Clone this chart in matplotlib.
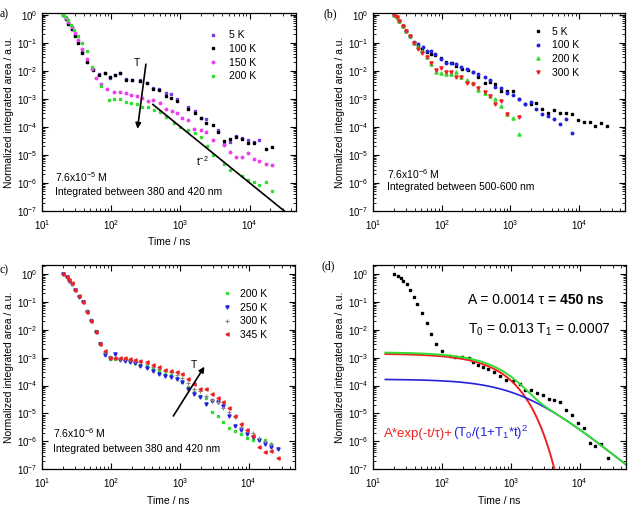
import numpy as np
import matplotlib
matplotlib.use("Agg")
import matplotlib.pyplot as plt
from matplotlib.ticker import LogLocator, NullFormatter

plt.rcParams["font.family"] = ["Liberation Sans", "DejaVu Sans"]
plt.rcParams["mathtext.fontset"] = "custom"
plt.rcParams["mathtext.rm"] = "Liberation Sans"
plt.rcParams["mathtext.it"] = "Liberation Sans:italic"
plt.rcParams["mathtext.bf"] = "Liberation Sans:bold"

# ---------------- panel (a): 380-420 nm, 7.6x10^-5 M ----------------
a_t_5K = [20, 22, 24, 27, 30, 33, 38, 45, 55, 66, 80, 97, 115, 135, 161, 200, 265, 330, 400, 490,
          620, 724, 906, 1310, 1620, 1970, 2330, 3520, 4220, 5250, 6300, 7700, 9420, 11500, 13800]
a_y_5K = [1.0, 0.75, 0.5, 0.32, 0.19, 0.11, 0.045, 0.021, 0.0115, 0.0078, 0.0085, 0.0056, 0.0072, 0.0085,
          0.0050, 0.0047, 0.0046, 0.0037, 0.0025, 0.0023, 0.0016, 1.45e-3, 1.0e-3, 5.0e-4, 3.7e-4, 2.0e-4,
          1.9e-4, 7.8e-5, 2.4e-5, 2.8e-5, 4.9e-5, 4.0e-5, 3.4e-5, 2.8e-5, 3.4e-5]
a_t_100K = [20, 22, 24, 27, 30, 33, 38, 45, 55, 66, 80, 97, 115, 135, 161, 200, 265, 330, 400, 490,
            620, 724, 906, 1310, 1620, 1970, 2330, 2920, 3520, 4220, 5250, 6300, 7700, 9420, 11500, 17400, 21000]
a_y_100K = [1.0, 0.7, 0.48, 0.3, 0.18, 0.10, 0.043, 0.02, 0.011, 0.0072, 0.0080, 0.0058, 0.0070, 0.0080,
            0.0048, 0.0045, 0.0043, 0.0038, 0.0022, 0.0021, 0.0013, 1.05e-3, 8.7e-4, 4.4e-4, 3.2e-4, 2.0e-4,
            1.42e-4, 1.12e-4, 6.5e-5, 3.2e-5, 3.7e-5, 4.5e-5, 3.6e-5, 2.6e-5, 2.6e-5, 1.6e-5, 1.9e-5]
a_t_150K = [20, 22, 24, 27, 30, 33, 38, 45, 52, 61, 72, 87, 111, 133, 162, 194, 237, 280, 339, 400,
            500, 612, 748, 906, 1070, 1310, 1580, 1970, 2330, 2920, 4220, 5250, 6300, 7700, 9420, 11500,
            13800, 17400, 21000]
a_y_150K = [1.0, 0.78, 0.56, 0.36, 0.22, 0.13, 0.06, 0.026, 0.012, 0.0055, 0.0035, 0.0023, 0.0018, 0.0017,
            0.0016, 0.0014, 0.0013, 0.00105, 8.5e-4, 9.0e-4, 7.0e-4, 4.4e-4, 3.7e-4, 3.0e-4, 2.1e-4, 1.8e-4,
            8.5e-5, 7.5e-5, 6.8e-5, 3.4e-5, 2.3e-5, 1.25e-5, 8.3e-6, 8.3e-6, 1.15e-5, 7.2e-6, 6.1e-6, 4.8e-6, 4.4e-6]
a_t_200K = [20, 22, 24, 26, 29, 32.6, 37.7, 44.6, 52.5, 72, 92, 111, 133, 161, 194, 237, 280, 340, 415, 504,
            625, 810, 1000, 1310, 1620, 1970, 2415, 2920, 4220, 5250, 7700, 9420, 11500, 13800, 17400, 21000]
a_y_200K = [1.0, 0.85, 0.65, 0.44, 0.28, 0.17, 0.097, 0.049, 0.0135, 2.8e-3, 9.2e-4, 9.7e-4, 9.7e-4, 7.4e-4,
            7.0e-4, 6.5e-4, 5.0e-4, 5.2e-4, 4.1e-4, 3.5e-4, 2.3e-4, 1.35e-4, 1.0e-4, 7.9e-5, 6.0e-5, 4.2e-5,
            2.0e-5, 1.0e-5, 4.7e-6, 2.8e-6, 1.8e-6, 1.28e-6, 1.12e-6, 8.5e-7, 1.05e-6, 5.2e-7]
a_power_t = [400, 40000]
a_power_y = [6.3e-4, 6.3e-8]

# ---------------- panel (b): 500-600 nm ----------------
b_t_5K = [20, 22, 24, 27, 30, 34, 39.5, 45, 52, 60, 69, 79, 98, 114, 140, 163, 200, 240, 282, 340,
          422, 500, 590, 735, 892, 1090, 1320, 1610, 1970, 2390, 2880, 3520, 4370, 5340, 6380, 7890,
          9640, 11760, 14620, 17460, 21120, 25700]
b_y_5K = [1.0, 0.8, 0.6, 0.4, 0.26, 0.17, 0.10, 0.075, 0.058, 0.045, 0.040, 0.037, 0.028, 0.021, 0.019,
          0.015, 0.012, 0.0105, 0.0088, 0.0062, 0.0038, 0.0041, 0.0035, 1.9e-3, 1.9e-3, 1.9e-3, 9.7e-4,
          6.8e-4, 6.8e-4, 7.1e-4, 4.5e-4, 3.1e-4, 3.9e-4, 3.1e-4, 3.1e-4, 2.8e-4, 1.8e-4, 1.5e-4, 1.5e-4,
          1.07e-4, 1.4e-4, 1.07e-4]
b_t_100K = [20, 22, 24, 27, 30, 34, 39.5, 45, 53.5, 60, 69, 79, 96, 114, 135, 163, 193, 231, 282, 337,
            422, 500, 590, 735, 892, 1090, 1320, 1610, 1970, 2390, 2880, 3520, 4370, 5340, 6380, 8000]
b_y_100K = [1.0, 0.8, 0.6, 0.4, 0.26, 0.17, 0.11, 0.089, 0.073, 0.051, 0.049, 0.039, 0.026, 0.0195, 0.0186,
            0.017, 0.014, 0.0115, 0.0093, 0.0074, 0.0058, 0.0045, 0.0027, 2.5e-3, 1.55e-3, 1.42e-3, 1.02e-3,
            6.3e-4, 7.4e-4, 4.5e-4, 2.9e-4, 2.4e-4, 1.85e-4, 1.3e-4, 1.95e-4, 6e-5]
b_t_200K = [20, 22, 24, 27, 30, 34, 39.5, 45, 50.6, 60, 69, 82, 97, 114, 135, 163, 193, 231, 282, 337,
            422, 500, 590, 735, 892, 1090, 1320]
b_y_200K = [1.0, 0.8, 0.6, 0.4, 0.26, 0.17, 0.10, 0.069, 0.049, 0.030, 0.017, 0.0093, 0.0081, 0.0076,
            0.0074, 0.0093, 0.0062, 0.0047, 0.0037, 0.0020, 0.0016, 0.0013, 1.02e-3, 5.4e-4, 2.9e-4, 2.1e-4, 5.4e-5]
b_t_300K = [20, 22, 24, 27, 30, 34, 39.5, 45, 50.6, 60, 69, 82, 97, 114, 135, 163, 193, 231, 282, 337,
            422, 500, 590, 735, 892, 1320]
b_y_300K = [1.0, 0.8, 0.6, 0.4, 0.26, 0.17, 0.10, 0.059, 0.043, 0.032, 0.0195, 0.011, 0.0123, 0.0093,
            0.0087, 0.0062, 0.0059, 0.0037, 0.0033, 0.0025, 0.0018, 1.26e-3, 6.4e-4, 8.5e-4, 2.8e-4, 2.2e-4]

# ---------------- panel (c): 380-420 nm, 7.6x10^-6 M ----------------
c_t = [20, 22.8, 25, 27, 30.2, 34.8, 39, 44.6, 51, 60, 69.7, 82, 97, 115, 136, 161, 190, 224, 265, 332,
       414, 506, 612, 748, 905, 1092, 1309, 1580, 1973, 2386, 2918, 3565, 4303, 5210, 6370, 7787, 9420,
       11510, 13900, 17000, 21220, 26240]
c_y_200K = [1.0, 0.78, 0.59, 0.45, 0.27, 0.16, 0.105, 0.048, 0.023, 0.0088, 0.0034, 1.45e-3, 9.0e-4, 9.0e-4,
            8.8e-4, 8.2e-4, 7.5e-4, 6.6e-4, 5.6e-4, 4.9e-4, 3.9e-4, 3.2e-4, 2.6e-4, 2.4e-4, 1.8e-4, 1.38e-4,
            8.7e-5, 6.0e-5, 4.2e-5, 3.5e-5, 1.16e-5, 8.1e-6, 5.1e-6, 2.9e-6, 2.4e-6, 1.8e-6, 1.3e-6, 1.15e-6,
            1.15e-6, 1.15e-6, 7.8e-7, np.nan]
c_y_250K = [1.0, 0.78, 0.58, 0.44, 0.26, 0.155, 0.10, 0.045, 0.021, 0.0080, 0.0031, 1.25e-3, 9.8e-4, 1.4e-3,
            8.0e-4, 7.5e-4, 7.0e-4, 6.6e-4, 5.2e-4, 4.3e-4, 3.3e-4, 2.7e-4, 2.2e-4, 2.1e-4, 1.7e-4, 1.32e-4,
            7.4e-5, 5.1e-5, 4.0e-5, 2.2e-5, 2.8e-5, 2.5e-5, 1.86e-5, 8.1e-6, 3.5e-6, 2.6e-6, 1.8e-6, 1.4e-6,
            1.15e-6, 7.8e-7, 6.5e-7, 5.4e-7]
c_y_300K = [1.0, 0.79, 0.6, 0.45, 0.26, 0.16, 0.10, 0.046, 0.022, 0.0083, 0.0032, 1.55e-3, 1.05e-3, 9.6e-4,
            9.2e-4, 8.8e-4, 8.2e-4, 7.6e-4, 6.8e-4, 5.9e-4, 4.8e-4, 3.9e-4, 3.2e-4, 2.95e-4, 2.4e-4, 1.9e-4,
            1.27e-4, 7.4e-5, 6.4e-5, 4.2e-5, 3.0e-5, 2.5e-5, 1.54e-5, 1.16e-5, 7.3e-6, 3.4e-6, 2.6e-6,
            1.95e-6, 1.3e-6, 1.02e-6, 7.8e-7, np.nan]
c_y_345K = [1.0, 0.8, 0.61, 0.46, 0.27, 0.165, 0.10, 0.045, 0.021, 0.0080, 0.0030, 1.7e-3, 1.0e-3, 1.0e-3,
            9.5e-4, 9.5e-4, 8.8e-4, 8.4e-4, 7.6e-4, 6.8e-4, 5.5e-4, 4.5e-4, 3.6e-4, 3.4e-4, 2.95e-4, 2.6e-4,
            1.7e-4, 1.1e-4, 7.4e-5, 7.4e-5, 5.1e-5, 3.5e-5, 2.5e-5, 1.62e-5, 8.1e-6, 4.1e-6, 2.6e-6,
            1.55e-6, 6.5e-7, 4.0e-7, 4.5e-7, 2.5e-7]

# ---------------- panel (d): data + fit ----------------
d_t = [20, 23, 25, 27.4, 30.6, 34.2, 39.5, 43.7, 51.6, 59.8, 69.2, 81.9, 99, 131, 155, 193, 242, 286, 338,
       399, 472, 571, 698, 855, 1069, 1334, 1614, 1954, 2388, 2921, 3526, 4266, 5217, 6375, 7800, 9500,
       11600, 14300, 16900, 20500, 25500]
d_y = [1.0, 0.85, 0.70, 0.55, 0.42, 0.26, 0.15, 0.085, 0.040, 0.017, 0.0072, 0.0030, 0.0017, 1.15e-3,
       1.1e-3, 1.1e-3, 9.5e-4, 7.0e-4, 5.4e-4, 4.7e-4, 3.8e-4, 3.1e-4, 2.2e-4, 1.63e-4, 1.42e-4, 1.17e-4,
       6.8e-5, 6.8e-5, 5.6e-5, 4.5e-5, 3.4e-5, 3.0e-5, 2.6e-5, 1.35e-5, 8.6e-6, 4.5e-6, 3.0e-6, 9e-7,
       6.9e-7, 8.1e-7, 2.5e-7]
fit_A = 0.0014
fit_tau = 450.0
fit_T0 = 0.013
fit_T1 = 0.0007
fit_t = np.logspace(np.log10(15), np.log10(5e4), 400)

GREEN = "#33dd33"
PURPLE = "#7a3be0"
MAGENTA = "#ee40ee"
BLUE = "#2222dd"
RED = "#ee2222"
GRAY = "#888888"

fig = plt.figure(figsize=(6.33, 5.09), dpi=100)
ax_a = fig.add_axes([0.0664, 0.5855, 0.4013, 0.389])
ax_b = fig.add_axes([0.5897, 0.5855, 0.3976, 0.389])
ax_c = fig.add_axes([0.0664, 0.0780, 0.3997, 0.4014])
ax_d = fig.add_axes([0.5897, 0.0780, 0.3992, 0.4014])


def style(ax, ytop, xlabel=True):
    ax.set_xscale("log")
    ax.set_yscale("log")
    ax.set_xlim(10, 4.7e4)
    ax.set_ylim(1e-7, ytop)
    ax.xaxis.set_major_locator(LogLocator(base=10, numticks=100))
    ax.yaxis.set_major_locator(LogLocator(base=10, numticks=100))
    ax.xaxis.set_minor_locator(LogLocator(base=10, subs=np.arange(2, 10), numticks=100))
    ax.yaxis.set_minor_locator(LogLocator(base=10, subs=np.arange(2, 10), numticks=100))
    ax.xaxis.set_minor_formatter(NullFormatter())
    ax.yaxis.set_minor_formatter(NullFormatter())
    ax.tick_params(which="both", direction="in", top=True, right=True, labelsize=7)
    ax.tick_params(which="major", length=4, width=0.8)
    ax.tick_params(which="minor", length=2, width=0.6)
    ax.tick_params(axis="x", pad=5)
    for s in ax.spines.values():
        s.set_linewidth(0.9)
    ax.set_ylabel("Normalized integrated area / a.u.", fontsize=7.5, labelpad=2)
    if xlabel:
        ax.set_xlabel("Time / ns", fontsize=7.5, labelpad=4)


def pts(ax, t, y, marker, color, label=None, ms=1.8):
    ax.plot(t, y, ls="none", marker=marker, ms=ms, color=color, mec=color, mfc=color, label=label)


def leg(ax, x, y, pad):
    ax.legend(loc="upper left", bbox_to_anchor=(x, y), frameon=False, fontsize=7.5, handlelength=0.8,
              handletextpad=pad, labelspacing=0.35, borderpad=0, borderaxespad=0, numpoints=1)


# (a)
style(ax_a, 1.15)
pts(ax_a, a_t_5K, a_y_5K, "s", PURPLE, "5 K")
pts(ax_a, a_t_100K, a_y_100K, "s", "black", "100 K")
pts(ax_a, a_t_150K, a_y_150K, "o", MAGENTA, "150 K")
pts(ax_a, a_t_200K, a_y_200K, "s", GREEN, "200 K")
ax_a.plot(a_power_t, a_power_y, color="black", lw=1.2)
leg(ax_a, 0.657, 0.912, 1.1)
ax_a.annotate("", xy=(237, 6.8e-5), xytext=(321, 0.0215),
              arrowprops=dict(arrowstyle="-|>", color="black", lw=1.2, mutation_scale=8))
ax_a.text(237, 0.019, "T", fontsize=7.5, ha="center", va="center")
ax_a.text(2090, 5.8e-6, "t$^{-2}$", fontsize=7.5, ha="center", va="center")
ax_a.text(0.051, 0.172, "7.6x10$^{-5}$ M", transform=ax_a.transAxes, fontsize=7.5, va="center")
ax_a.text(0.051, 0.096, "Integrated between 380 and 420 nm", transform=ax_a.transAxes, fontsize=7.5,
          va="center")

# (b)
style(ax_b, 1.15, xlabel=False)
pts(ax_b, b_t_5K, b_y_5K, "s", "black", "5 K")
pts(ax_b, b_t_100K, b_y_100K, "o", BLUE, "100 K")
pts(ax_b, b_t_200K, b_y_200K, "^", GREEN, "200 K", ms=2.3)
pts(ax_b, b_t_300K, b_y_300K, "v", RED, "300 K", ms=2.3)
leg(ax_b, 0.639, 0.930, 0.9)
ax_b.text(0.056, 0.187, "7.6x10$^{-6}$ M", transform=ax_b.transAxes, fontsize=7.5, va="center")
ax_b.text(0.056, 0.123, "Integrated between 500-600 nm", transform=ax_b.transAxes, fontsize=7.5,
          va="center")

# (c)
style(ax_c, 2.1)
pts(ax_c, c_t, c_y_200K, "s", GREEN, "200 K")
pts(ax_c, c_t, c_y_250K, "v", BLUE, "250 K", ms=2.3)
ax_c.plot(c_t, c_y_300K, ls="none", marker="+", ms=2.8, mew=0.8, color=GRAY, label="300 K")
pts(ax_c, c_t, c_y_345K, "<", RED, "345 K", ms=2.3)
leg(ax_c, 0.713, 0.883, 0.9)
ax_c.annotate("", xy=(2388, 5.8e-4), xytext=(766, 6.7e-6),
              arrowprops=dict(arrowstyle="-|>", color="black", lw=1.2, mutation_scale=8))
ax_c.text(1585, 5.5e-4, "T", fontsize=7.5, ha="center", va="center")
ax_c.text(0.045, 0.176, "7.6x10$^{-6}$ M", transform=ax_c.transAxes, fontsize=7.5, va="center")
ax_c.text(0.045, 0.099, "Integrated between 380 and 420 nm", transform=ax_c.transAxes, fontsize=7.5,
          va="center")

# (d)
style(ax_d, 2.1)
pts(ax_d, d_t, d_y, "s", "black", ms=1.6)
exp_part = fit_A * np.exp(-fit_t / fit_tau)
pow_part = (fit_T0 / (1 + fit_T1 * fit_t)) ** 2
ax_d.plot(fit_t, exp_part, color=RED, lw=1.4)
ax_d.plot(fit_t, pow_part, color=BLUE, lw=1.2)
ax_d.plot(fit_t, exp_part + pow_part, color=GREEN, lw=1.4)

renderer = fig.canvas.get_renderer()


def follow(ax, prev, s, **kw):
    bb = prev.get_window_extent(renderer)
    x_ax = ax.transAxes.inverted().transform((bb.x1, bb.y0))[0]
    x0, y0 = prev.get_position()
    return ax.text(x_ax, y0, s, transform=ax.transAxes, va="baseline", **kw)


t1 = ax_d.text(0.374, 0.81, "A = 0.0014 \u03c4 ", transform=ax_d.transAxes, fontsize=10, va="baseline")
follow(ax_d, t1, "= 450 ns", fontsize=10, fontweight="bold")
ax_d.text(0.374, 0.665, "T$_0$ = 0.013 T$_1$ = 0.0007", transform=ax_d.transAxes, fontsize=10,
          va="baseline")
t2 = ax_d.text(0.042, 0.16, "A*exp(-t/\u03c4)+", transform=ax_d.transAxes, fontsize=9.5, va="baseline",
               color=RED)
follow(ax_d, t2, "(T$_0$/(1+T$_1$*t)$^2$", fontsize=9.5, color=BLUE)

# panel letters
fig.text(0.0, 1 - 14 / 509, "a)", fontsize=8.5, family="Liberation Serif", va="center")
fig.text(323 / 633, 1 - 14 / 509, "(b)", fontsize=8.5, family="Liberation Serif", va="center")
fig.text(0.0, 1 - 270 / 509, "c)", fontsize=8.5, family="Liberation Serif", va="center")
fig.text(321 / 633, 1 - 266 / 509, "(d)", fontsize=8.5, family="Liberation Serif", va="center")

fig.savefig("out.png", dpi=100)
